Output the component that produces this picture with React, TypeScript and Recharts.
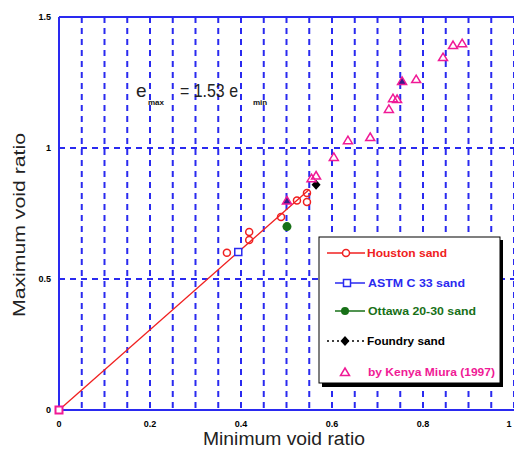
import { ScatterChart, Scatter, XAxis, YAxis, CartesianGrid, ReferenceLine } from 'recharts';

// points (x = e_min, y = e_max)
const houston = [
  { x: 0.369, y: 0.6 },
  { x: 0.418, y: 0.679 },
  { x: 0.418, y: 0.649 },
  { x: 0.488, y: 0.737 },
  { x: 0.523, y: 0.8 },
  { x: 0.545, y: 0.828 },
  { x: 0.545, y: 0.794 },
];
const astm = [{ x: 0.394, y: 0.603 }];
const ottawa = [{ x: 0.501, y: 0.7 }];
const foundry = [{ x: 0.565, y: 0.86 }];
const miura = [
  { x: 0.555, y: 0.885 },
  { x: 0.565, y: 0.895 },
  { x: 0.604, y: 0.966 },
  { x: 0.635, y: 1.03 },
  { x: 0.684, y: 1.042 },
  { x: 0.725, y: 1.149 },
  { x: 0.734, y: 1.19 },
  { x: 0.743, y: 1.187 },
  { x: 0.785, y: 1.263 },
  { x: 0.844, y: 1.347 },
  { x: 0.866, y: 1.393 },
  { x: 0.886, y: 1.4 },
];
const miuraDark = [
  { x: 0.501, y: 0.8 },
  { x: 0.754, y: 1.256 },
];
const originMark = [{ x: 0, y: 0 }];
const fitLine = [
  { x: 0, y: 0 },
  { x: 0.55, y: 0.842 },
];

const xTicks = [0, 0.05, 0.1, 0.15, 0.2, 0.25, 0.3, 0.35, 0.4, 0.45, 0.5, 0.55, 0.6, 0.65, 0.7, 0.75, 0.8, 0.85, 0.9, 0.95, 1];
const xLabels: Record<string, string> = { '0': '0', '0.2': '0.2', '0.4': '0.4', '0.6': '0.6', '0.8': '0.8', '1': '1' };
const yTicks = [0, 0.5, 1, 1.5];
const yLabels = ['0', '0.5', '1', '1.5'];

const BLUE = '#2a2af0';
const RED = '#f02020';
const GREEN = '#177017';
const PINK = '#f01a96';
const FONT = '"Liberation Sans", Arial, sans-serif';

const tri = (cx: number, cy: number, color: string, fill: string) => (
  <polygon
    points={`${cx},${cy - 4} ${cx + 4.5},${cy + 3.5} ${cx - 4.5},${cy + 3.5}`}
    fill={fill}
    stroke={color}
    strokeWidth={1.5}
  />
);

const tickStyle = { fontSize: 9, fontWeight: 700, fill: '#000', fontFamily: FONT };

// last x label sits right on the picture's edge, nudge it in
const XTick = (p: any) => {
  const label = xLabels[String(p.payload.value)] ?? '';
  if (!label) return <g />;
  const x = p.payload.value === 1 ? p.x - 5 : p.x;
  return (
    <text x={x} y={p.y + 9} textAnchor="middle" {...tickStyle}>
      {label}
    </text>
  );
};

export default function App() {
  return (
    <div style={{ position: 'absolute', left: 0, top: 0, width: 514, height: 456, overflow: 'hidden', background: '#fff' }}>
      <ScatterChart width={530} height={456} margin={{ top: 17, right: 16, bottom: 0, left: 0 }}>
        <CartesianGrid stroke={BLUE} strokeWidth={2} strokeDasharray="6 5" />
        <XAxis
          type="number"
          dataKey="x"
          domain={[0, 1]}
          ticks={xTicks}
          interval={0}
          height={46}
          tickLine={false}
          axisLine={{ stroke: BLUE, strokeWidth: 2 }}
          tick={<XTick />}
        />
        <YAxis
          type="number"
          dataKey="y"
          domain={[0, 1.5]}
          ticks={yTicks}
          interval={0}
          width={59}
          tickLine={false}
          axisLine={{ stroke: BLUE, strokeWidth: 2 }}
          tick={tickStyle}
          tickFormatter={(v: number) => yLabels[yTicks.indexOf(v)] ?? ''}
        />
        <ReferenceLine y={1.5} stroke={BLUE} strokeWidth={2} />
        <Scatter
          data={fitLine}
          line={{ stroke: RED, strokeWidth: 1.3 }}
          shape={() => <g />}
          isAnimationActive={false}
        />
        <Scatter
          data={houston}
          isAnimationActive={false}
          shape={(p: any) => <circle cx={p.cx} cy={p.cy} r={3.5} fill="none" stroke={RED} strokeWidth={1.5} />}
        />
        <Scatter
          data={astm}
          isAnimationActive={false}
          shape={(p: any) => <rect x={p.cx - 3.5} y={p.cy - 3.5} width={7} height={7} fill="#fff" stroke={BLUE} strokeWidth={1.5} />}
        />
        <Scatter
          data={ottawa}
          isAnimationActive={false}
          shape={(p: any) => <circle cx={p.cx} cy={p.cy} r={4.5} fill={GREEN} />}
        />
        <Scatter
          data={foundry}
          isAnimationActive={false}
          shape={(p: any) => (
            <polygon points={`${p.cx},${p.cy - 5} ${p.cx + 4.5},${p.cy} ${p.cx},${p.cy + 5} ${p.cx - 4.5},${p.cy}`} fill="#000" />
          )}
        />
        <Scatter data={miura} isAnimationActive={false} shape={(p: any) => tri(p.cx, p.cy, PINK, 'none')} />
        <Scatter data={miuraDark} isAnimationActive={false} shape={(p: any) => tri(p.cx, p.cy, PINK, '#3a1a8a')} />
        <Scatter
          data={originMark}
          isAnimationActive={false}
          shape={(p: any) => <rect x={p.cx - 3.5} y={p.cy - 3.5} width={7} height={7} fill="#fff" stroke={PINK} strokeWidth={2} />}
        />
      </ScatterChart>

      <svg width={514} height={456} style={{ position: 'absolute', left: 0, top: 0, pointerEvents: 'none' }} fontFamily={FONT}>
        {/* equation */}
        <text x={136} y={97} fontSize={19} fill="#222">e</text>
        <text x={148} y={105} fontSize={8} fontWeight={700} fill="#111">max</text>
        <text x={180} y={97} fontSize={19} fill="#222" textLength={58} lengthAdjust="spacingAndGlyphs">= 1.53 e</text>
        <text x={253} y={105} fontSize={8} fontWeight={700} fill="#111">min</text>

        {/* axis titles */}
        <text x={203} y={445} fontSize={18} fill="#222" textLength={162} lengthAdjust="spacingAndGlyphs">Minimum void ratio</text>
        <text transform="translate(25,317) rotate(-90)" fontSize={17} fill="#222" textLength={184} lengthAdjust="spacingAndGlyphs">Maximum void ratio</text>

        {/* legend */}
        <rect x={322} y={240} width={181} height={147} fill="#000" />
        <rect x={319} y={237} width={181} height={146} fill="#fff" stroke="#000" strokeWidth={1} />

        <line x1={327} y1={253} x2={365} y2={253} stroke={RED} strokeWidth={1.5} />
        <circle cx={346} cy={253} r={3.5} fill="#fff" stroke={RED} strokeWidth={1.5} />
        <text x={367} y={257} fontSize={10} fontWeight={700} fill={RED} textLength={80} lengthAdjust="spacingAndGlyphs">Houston sand</text>

        <line x1={335} y1={283} x2={365} y2={283} stroke={BLUE} strokeWidth={1.5} />
        <rect x={343.5} y={279.5} width={7} height={7} fill="#fff" stroke={BLUE} strokeWidth={1.5} />
        <text x={368} y={287} fontSize={10} fontWeight={700} fill={BLUE} textLength={97} lengthAdjust="spacingAndGlyphs">ASTM C 33 sand</text>

        <line x1={335} y1={311} x2={365} y2={311} stroke={GREEN} strokeWidth={1.5} />
        <circle cx={345} cy={311} r={4} fill={GREEN} />
        <text x={368} y={315} fontSize={10} fontWeight={700} fill={GREEN} textLength={108} lengthAdjust="spacingAndGlyphs">Ottawa 20-30 sand</text>

        <line x1={327} y1={341} x2={365} y2={341} stroke="#000" strokeWidth={1.5} strokeDasharray="2 3" />
        <polygon points="345,336 349.5,341 345,346 340.5,341" fill="#000" />
        <text x={367} y={345} fontSize={10} fontWeight={700} fill="#000" textLength={78} lengthAdjust="spacingAndGlyphs">Foundry sand</text>

        {tri(345, 372, PINK, 'none')}
        <text x={368} y={376} fontSize={10} fontWeight={700} fill={PINK} textLength={127} lengthAdjust="spacingAndGlyphs">by Kenya Miura (1997)</text>
      </svg>
    </div>
  );
}
